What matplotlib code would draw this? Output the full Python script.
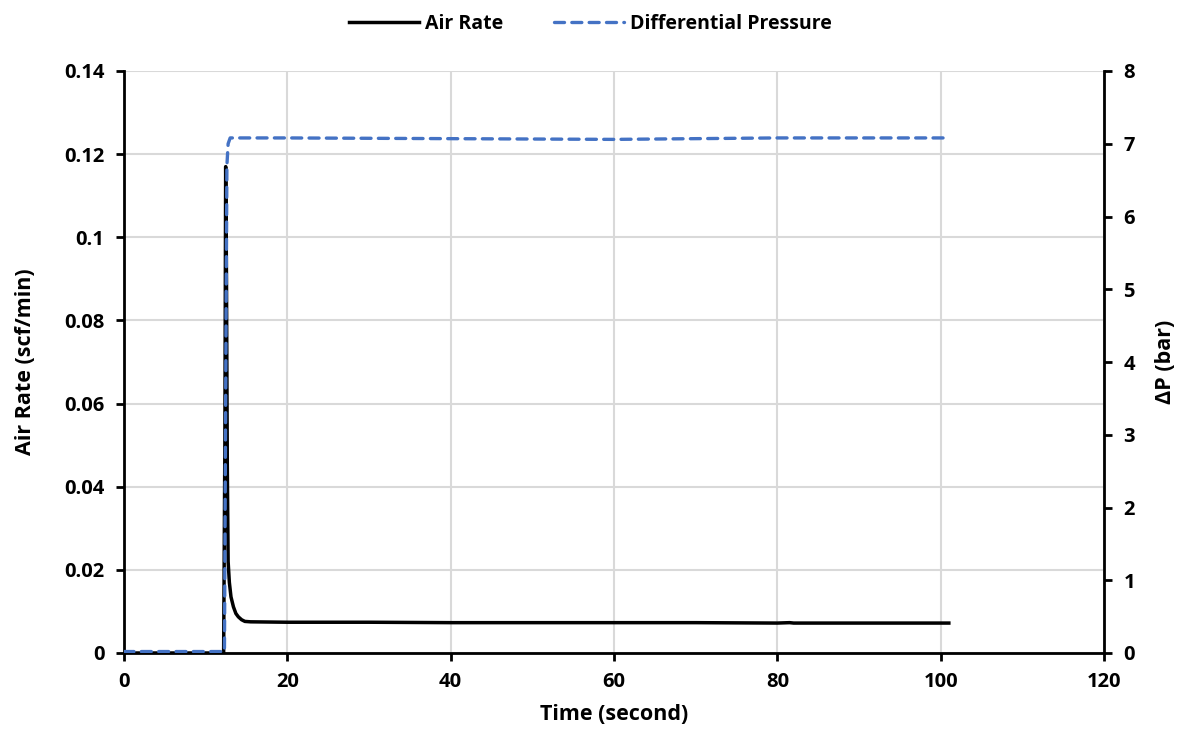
import matplotlib
matplotlib.use("Agg")
import matplotlib.pyplot as plt

plt.rcParams['font.family'] = ['Open Sans', 'DejaVu Sans']
plt.rcParams['font.weight'] = 'bold'

# Air rate (scf/min) vs time (s)
air_time = [0, 12.2, 12.35, 12.45, 12.55, 12.65, 12.75, 12.9, 13.1, 13.4, 13.7, 14.0, 14.4,
            14.8, 15.5, 20, 30, 40, 50, 60, 70, 80, 81.5, 82, 90, 101]
air_rate = [0, 0, 0.05, 0.117, 0.09, 0.045, 0.022, 0.017, 0.0135, 0.0111, 0.0095, 0.0087, 0.0080,
            0.0076, 0.0075, 0.0074, 0.0074, 0.0073, 0.0073, 0.0073, 0.0073, 0.0072, 0.0073, 0.0072,
            0.0072, 0.0072]

# Differential pressure (bar) vs time (s)
dp_time = [0, 12.3, 12.45, 12.6, 12.75, 13.0, 14, 20, 40, 60, 80, 101]
dp_bar = [0.02, 0.02, 3.5, 6.7, 7.0, 7.08, 7.08, 7.08, 7.07, 7.06, 7.08, 7.08]

x_ticks = [0, 20, 40, 60, 80, 100, 120]
left_ticks = [0, 0.02, 0.04, 0.06, 0.08, 0.1, 0.12, 0.14]
left_labels = ["0", "0.02", "0.04", "0.06", "0.08", "0.1", "0.12", "0.14"]
right_ticks = [0, 1, 2, 3, 4, 5, 6, 7, 8]

blue = "#4472C4"
fs = 14.5
lfs = 15.5

fig = plt.figure(figsize=(11.81, 7.38), dpi=100)
ax = fig.add_axes([124/1181, 1 - 653/738, (1104-124)/1181, (653-71)/738])
ax2 = ax.twinx()

ln1, = ax.plot(air_time, air_rate, color="black", lw=2.5, label="Air Rate", zorder=3)
ln2, = ax2.plot(dp_time, dp_bar, color=blue, lw=2.4, ls=(0, (3.0, 2.2)),
                dash_capstyle="round", label="Differential Pressure", zorder=3)

ax.set_xlim(0, 120)
ax.set_ylim(0, 0.14)
ax2.set_ylim(0, 8)
ax.set_xticks(x_ticks)
ax.set_xticklabels([str(v) for v in x_ticks])
ax.set_yticks(left_ticks)
ax.set_yticklabels(left_labels)
ax2.set_yticks(right_ticks)

ax.grid(True, color="#D9D9D9", lw=1.5, zorder=0)
ax.set_axisbelow(True)

for a in (ax, ax2):
    for s in a.spines.values():
        s.set_visible(False)
ax.spines['left'].set_visible(True)
ax.spines['bottom'].set_visible(True)
ax2.spines['right'].set_visible(True)
for s in (ax.spines['left'], ax.spines['bottom'], ax2.spines['right']):
    s.set_linewidth(2)
    s.set_color("black")

ax.tick_params(axis='both', direction='out', length=6, width=2, labelsize=fs, pad=8)
ax2.tick_params(axis='y', direction='out', length=6, width=2, labelsize=fs, pad=8)
for lab in ax.get_xticklabels() + ax.get_yticklabels() + ax2.get_yticklabels():
    lab.set_fontweight('bold')

ax.set_xlabel("Time (second)", fontsize=lfs, fontweight='bold', labelpad=8)
ax.set_ylabel("Air Rate (scf/min)", fontsize=lfs, fontweight='bold', labelpad=20)
ax2.set_ylabel("ΔP (bar)", fontsize=lfs, fontweight='bold', labelpad=14)

fig.legend(handles=[ln1, ln2], loc="upper center", bbox_to_anchor=(0.5, 1.005), ncol=2,
           frameon=False, prop={'weight': 'bold', 'size': 14}, handlelength=3.6,
           handletextpad=0.3, columnspacing=2.6)

fig.savefig("out.png", dpi=100)
